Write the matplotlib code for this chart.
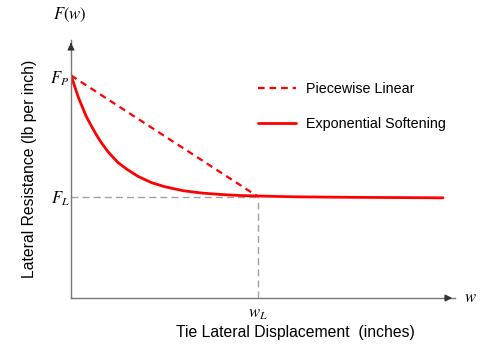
import matplotlib
matplotlib.use("Agg")
import matplotlib.pyplot as plt

plt.rcParams['font.family'] = ['Liberation Sans', 'DejaVu Sans']
plt.rcParams['mathtext.fontset'] = 'stix'

# Data (arbitrary units)
F_P = 2.2
F_L = 1.0
w_L = 1.0
w_exp = [0.0, 0.02, 0.04, 0.06, 0.08, 0.1, 0.13, 0.16, 0.2, 0.25, 0.3, 0.36, 0.43, 0.5,
         0.6, 0.7, 0.8, 0.9, 1.0, 1.2, 1.5, 1.986]
F_exp = [2.2, 2.09, 1.98, 1.89, 1.80, 1.73, 1.63, 1.54, 1.44, 1.34, 1.27, 1.20, 1.14, 1.10,
         1.06, 1.037, 1.023, 1.013, 1.008, 1.0, 0.995, 0.99]
w_lin = [0.0, w_L]
F_lin = [F_P, F_L]

W, H = 484, 350
fig = plt.figure(figsize=(W / 100, H / 100), dpi=100)
left, right, top, bottom = 71, 455, 40, 298
ax = fig.add_axes([left / W, 1 - bottom / H, (right - left) / W, (bottom - top) / H])
ax.set_xlim(0, 2.05)
ax.set_ylim(0, 2.55)
for s in ['top', 'right']:
    ax.spines[s].set_visible(False)
for s in ['left', 'bottom']:
    ax.spines[s].set_color('#777777')
    ax.spines[s].set_linewidth(1.0)
ax.set_xticks([])
ax.set_yticks([])
ax.patch.set_alpha(0)

red = '#ff0000'
gray = '#a0a0a0'
ax.plot([0, w_L], [F_L, F_L], color=gray, lw=1.0, ls=(0, (5, 3)))
ax.plot([w_L, w_L], [0, F_L], color=gray, lw=1.0, ls=(0, (5, 3)))
l1, = ax.plot(w_lin, F_lin, color=red, lw=1.6, ls=(0, (3, 2.2)), label='Piecewise Linear')
l2, = ax.plot(w_exp, F_exp, color=red, lw=2.0, label='Exponential Softening',
              solid_capstyle='round', solid_joinstyle='round')

# axis arrows
ax.annotate('', xy=(0, 1), xytext=(0, 0.97), xycoords='axes fraction',
            arrowprops=dict(arrowstyle='-|>', color='#333333', lw=1.0, mutation_scale=10))
ax.annotate('', xy=(1, 0), xytext=(0.97, 0), xycoords='axes fraction',
            arrowprops=dict(arrowstyle='-|>', color='#333333', lw=1.0, mutation_scale=10))

fig.legend(handles=[l1, l2], loc='upper left', bbox_to_anchor=(245 / W, 1 - 69 / H),
           frameon=False, fontsize=10.3, handlelength=2.65, labelspacing=1.5, handletextpad=0.7)

fig.text(70 / W, 1 - 15 / H, '$F(w)$', ha='center', va='center', fontsize=12)
fig.text(60 / W, 1 - 79 / H, '$F_P$', ha='center', va='center', fontsize=12)
fig.text(60 / W, 1 - 199 / H, '$F_L$', ha='center', va='center', fontsize=12)
fig.text(258 / W, 1 - 314 / H, '$w_L$', ha='center', va='center', fontsize=12)
fig.text(470 / W, 1 - 298 / H, '$w$', ha='center', va='center', fontsize=12)
fig.text(30 / W, 1 - 169 / H, 'Lateral Resistance (lb per inch)', rotation=90,
         ha='center', va='center', fontsize=11.3)
fig.text(295 / W, 1 - 332 / H, 'Tie Lateral Displacement  (inches)', ha='center', va='center',
         fontsize=11.3)

fig.savefig('out.png', dpi=100)
